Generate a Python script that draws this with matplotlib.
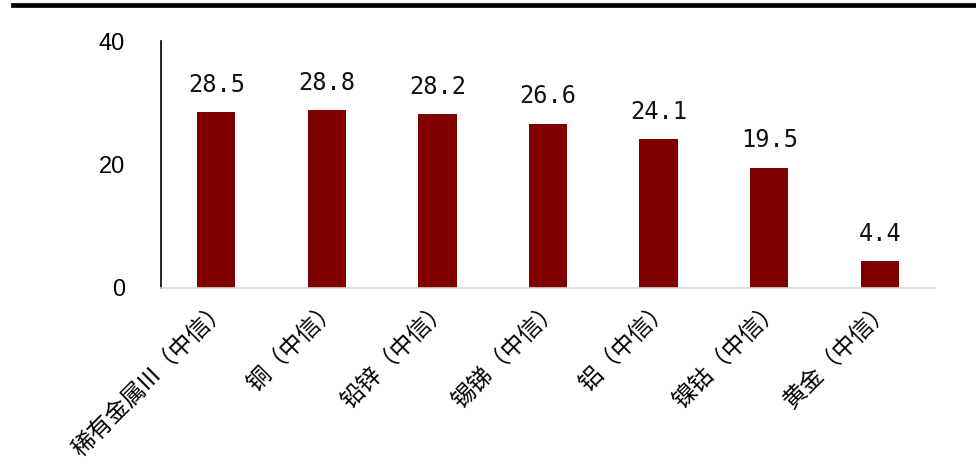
import matplotlib

matplotlib.use("Agg")
import matplotlib.pyplot as plt
from matplotlib.lines import Line2D

plt.rcParams["font.family"] = ["Noto Sans CJK SC", "DejaVu Sans"]

categories = ["稀有金属III（中信）", "铜（中信）", "铅锌（中信）", "锡锑（中信）",
              "铝（中信）", "镍钴（中信）", "黄金（中信）"]
values = [28.5, 28.8, 28.2, 26.6, 24.1, 19.5, 4.4]
yticks = [0, 20, 40]

fig = plt.figure(figsize=(9.76, 4.75), dpi=100)
ax = fig.add_axes([161 / 976, 1 - 288 / 475, 774 / 976, 247 / 475])

x = range(len(categories))
bars = ax.bar(x, values, width=0.345, color="#800000")
for b, v in zip(bars, values):
    ax.annotate(f"{v:.1f}", (b.get_x() + b.get_width() / 2, v),
                xytext=(0, 11), textcoords="offset points",
                ha="center", va="bottom", fontsize=17, color="#111111",
                family="DejaVu Sans Mono")

ax.set_xlim(-0.5, len(categories) - 0.5)
ax.set_ylim(0, 40)
ax.set_yticks(yticks)
ax.set_yticklabels([str(t) for t in yticks], fontsize=17, family="Liberation Sans")
ax.tick_params(axis="y", length=0, pad=26)
ax.set_xticks(list(x))
ax.set_xticklabels(categories, rotation=45, ha="right", va="top",
                   rotation_mode="anchor", fontsize=17, fontweight="light")
ax.tick_params(axis="x", length=0, pad=6)

for side in ("top", "right"):
    ax.spines[side].set_visible(False)
ax.spines["left"].set_color("black")
ax.spines["left"].set_linewidth(1.2)
ax.spines["bottom"].set_color("#d9d9d9")
ax.spines["bottom"].set_linewidth(1.2)

# thick rule across the top of the figure
fig.add_artist(Line2D([13 / 976, 1], [1 - 5 / 475, 1 - 5 / 475],
                      transform=fig.transFigure, color="black", linewidth=3.4))

fig.savefig("out.png", dpi=100)
